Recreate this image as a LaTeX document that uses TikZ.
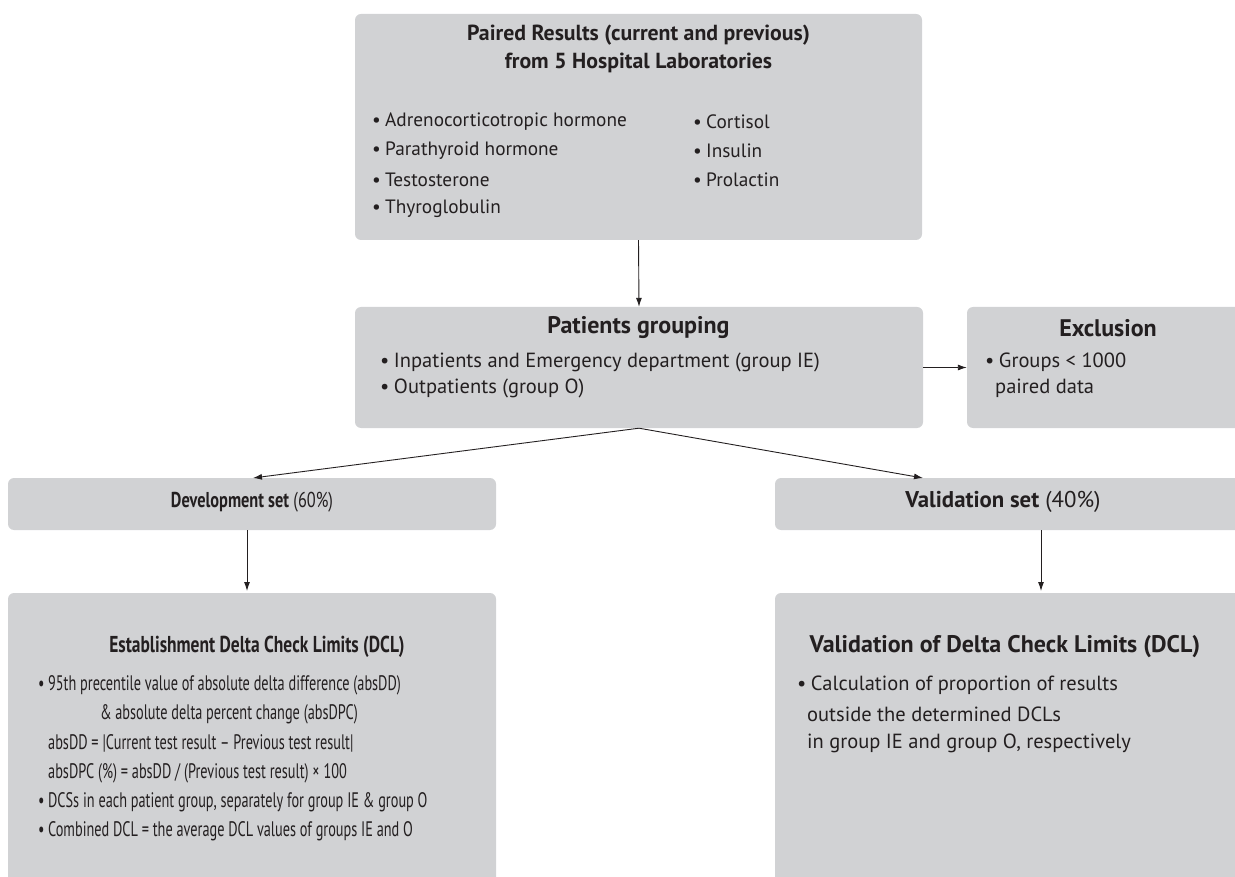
\documentclass[tikz,border=0pt]{standalone}
\usepackage{fontspec}
\setmainfont{PT Sans}
\newfontfamily\condA[FakeStretch=0.68]{PT Sans}
\newfontfamily\condB[FakeStretch=0.76]{PT Sans}
\usetikzlibrary{arrows.meta}
\definecolor{boxgray}{HTML}{D1D2D4}
\definecolor{ink}{HTML}{231F20}
\tikzset{
  box/.style={fill=boxgray, draw=none, rounded corners=6pt, inner sep=0pt},
  txt/.style={text=ink, inner sep=0pt, font=\fontsize{20.5}{24}\selectfont},
  ttl/.style={text=ink, inner sep=0pt, font=\fontsize{24}{28}\selectfont\bfseries},
  arr/.style={draw=ink, line width=0.9pt, -{Latex[length=9pt,width=6pt]}},
}
\newcommand{\bul}{\textbullet\hspace{0.22em}}
\begin{document}
\begin{tikzpicture}[x=1pt,y=-1pt]
\useasboundingbox (0,0) rectangle (1235,877);
\clip (0,0) rectangle (1235,877);
% boxes
\node[box, minimum width=567pt, minimum height=226pt] (top) at (638.5,127) {};
\node[box, minimum width=568pt, minimum height=121pt] (pat) at (639,367.5) {};
\node[box, minimum width=290pt, minimum height=121pt] (exc) at (1112,367.5) {};
\node[box, minimum width=488pt, minimum height=52pt] (dev) at (252,504) {};
\node[box, minimum width=490pt, minimum height=52pt] (val) at (1020,504) {};
\node[box, minimum width=488pt, minimum height=320pt] (devb) at (252,753) {};
\node[box, minimum width=490pt, minimum height=320pt] (valb) at (1020,753) {};
% top box text
\node[ttl, font=\fontsize{21.8}{26}\selectfont\bfseries] (t1) at (638.5,35) {Paired Results (current and previous)};
\node[ttl, font=\fontsize{21.8}{26}\selectfont\bfseries] (t2) at (638.5,63) {from 5 Hospital Laboratories};
\begin{scope}[every node/.style={txt, anchor=west, font=\fontsize{19.3}{22}\selectfont}]
\node (a1) at (372,122) {\bul Adrenocorticotropic hormone};
\node (a2) at (372,151) {\bul Parathyroid hormone};
\node (a3) at (372,180) {\bul Testosterone};
\node (a4) at (372,209) {\bul Thyroglobulin};
\node (b1) at (693,122) {\bul Cortisol};
\node (b2) at (693,151) {\bul Insulin};
\node (b3) at (693,180) {\bul Prolactin};
\end{scope}
% patients
\node[ttl] (pt) at (638.5,328) {Patients grouping};
\node[txt, anchor=west] (p1) at (380,362) {\bul Inpatients and Emergency department (group IE)};
\node[txt, anchor=west] (p2) at (380,388) {\bul Outpatients (group O)};
% exclusion
\node[ttl] (et) at (1108,328) {Exclusion};
\node[txt, anchor=west] (e1) at (985,362) {\bul Groups < 1000};
\node[txt, anchor=west] (e2) at (995,388) {paired data};
% dev / val
\node[txt, font=\fontsize{21.5}{25}\selectfont\condB] (dt) at (252,502) {\textbf{Development set} (60\%)};
\node[txt, font=\fontsize{22.8}{26}\selectfont] (vt) at (1003,502) {\textbf{Validation set} (40\%)};
% dev bottom
\node[ttl, font=\fontsize{23}{27}\selectfont\condB\bfseries] (dbt) at (257,647) {Establishment Delta Check Limits (DCL)};
\begin{scope}[every node/.style={txt, anchor=west, font=\fontsize{21}{24}\selectfont\condA}]
\node (d1) at (38,685) {\textbullet\,95th precentile value of absolute delta difference (absDD)};
\node (d2) at (100,714) {\&\,absolute delta percent change (absDPC)};
\node (d3) at (48,743) {absDD = |Current test result – Previous test result|};
\node (d4) at (48,773) {absDPC (\%) = absDD / (Previous test result) × 100};
\node (d5) at (38,802) {\textbullet\,DCSs in each patient group, separately for group IE \& group O};
\node (d6) at (38,831) {\textbullet\,Combined DCL = the average DCL values of groups IE and O};
\end{scope}
% val bottom
\node[ttl] (vbt) at (1005,647) {Validation of Delta Check Limits (DCL)};
\node[txt, anchor=west] (v1) at (797,685) {\bul Calculation of proportion of results};
\node[txt, anchor=west] (v2) at (807,714) {outside the determined DCLs};
\node[txt, anchor=west] (v3) at (807,743) {in group IE and group O, respectively};
% connectors
\coordinate (devin) at (253,478);
\coordinate (valin) at (923,478);
\coordinate (devout) at (247,530);
\coordinate (devbin) at (247,591);
\coordinate (valout) at (1041,530);
\coordinate (valbin) at (1041,591);
\draw[arr] (top.south) -- (pat.north);
\draw[arr] (pat.east) -- (exc.west);
\draw[arr] (pat.south) -- (devin);
\draw[arr] (pat.south) -- (valin);
\draw[arr] (devout) -- (devbin);
\draw[arr] (valout) -- (valbin);
\end{tikzpicture}
\end{document}
